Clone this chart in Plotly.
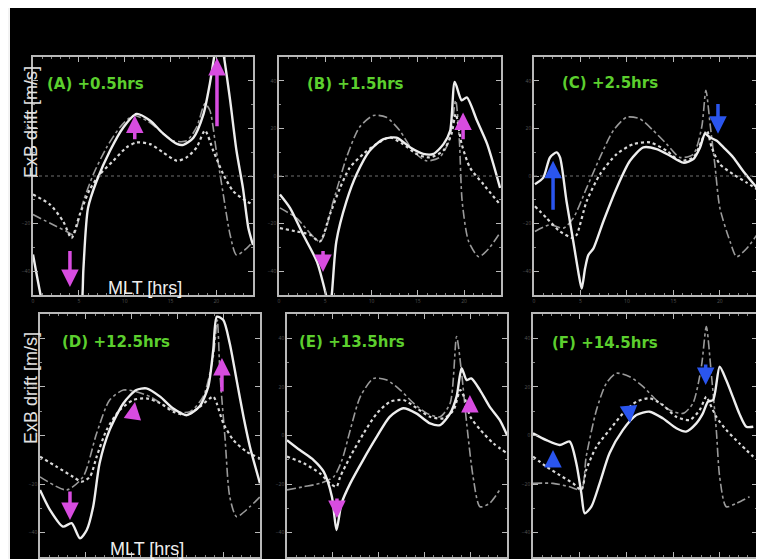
import plotly.graph_objects as go

# ---------------- data (MLT hours, ExB drift m/s) ----------------
A_solid_x = [0, 1.1, 2.5, 4, 5.3, 5.5, 6.0, 6.95, 8.4, 9.85, 11.3, 12.76, 14.2, 15.7, 16.4, 17.5, 18.6, 19.3, 19.85, 20.3, 20.75, 21.5, 22.2, 22.9, 23.5, 24]
A_solid_y = [-33, -55, -75, -75, -55, -39, -13.5, -2, 10.6, 20.4, 26.1, 23.3, 17.8, 13.5, 13.1, 16.1, 26, 39, 52, 60, 52, 32, 10.6, -5, -22, -29]
A_dot_x = [0, 1.85, 3.3, 4.2, 5.1, 6.2, 7.3, 8.76, 10.2, 11.3, 12.76, 14.2, 15.7, 16.76, 17.85, 18.76, 19.67, 20.76, 21.85, 23.3, 24]
A_dot_y = [-7.8, -12, -19.1, -26.1, -16.2, -5.6, 0.7, 6.4, 12, 14.1, 13.4, 9.9, 6.4, 7.8, 12, 19.1, 10.6, 0.7, -6.4, -10.6, -12]
A_dd_x = [0, 2.2, 3.67, 4.4, 5.5, 6.58, 8.03, 9.49, 10.94, 12.4, 13.85, 15.3, 16.76, 17.85, 18.76, 19.3, 20.0, 20.76, 21.5, 22.2, 23.3, 24]
A_dd_y = [-16.2, -20.5, -23.3, -24.7, -10.6, 0.7, 12, 20.5, 25.4, 23.3, 19.1, 14.8, 14.8, 20.5, 30.4, 27.5, 10.6, -7.8, -24.7, -33.2, -30.4, -27.5]

B_solid_x = [0.1, 1.2, 2.6, 4.1, 5.15, 5.45, 5.7, 6.2, 7.3, 8.4, 9.8, 11.3, 12.7, 14.2, 15.6, 16.7, 17.8, 18.5, 19.0, 19.75, 20.3, 21.4, 22.5, 23.9]
B_solid_y = [-7.8, -13.5, -24.6, -36, -51, -56, -50, -27.5, -10.6, 0.8, 10.6, 15.5, 16.1, 12, 9.3, 9.3, 13.5, 19, 39.5, 31.8, 33, 23.3, 13.5, -5]
B_dot_x = [0.1, 1.9, 3.35, 4.43, 5.5, 6.6, 7.65, 9.1, 10.5, 12.0, 13.4, 14.9, 16.3, 17.75, 18.65, 19.1, 19.75, 20.65, 22.1, 23.9]
B_dot_y = [-21.9, -23.3, -24.7, -27.5, -16.2, -5, 3.5, 9.2, 13.4, 16.2, 13.4, 9.2, 7.8, 10.6, 17.7, 26.1, 13.4, 3.5, -3.5, -12]
B_dd_x = [0.1, 1.9, 4.43, 5.87, 7.3, 8.7, 10.2, 11.6, 13.05, 14.5, 15.9, 17.35, 18.4, 19.1, 19.5, 19.8, 20.5, 21.6, 22.7, 23.75]
B_dd_y = [-13.4, -17.7, -27.5, -10.6, 7.8, 20.5, 25.4, 24.7, 19.1, 10.6, 6.4, 7.8, 14.8, 31.8, 14.8, -10.6, -27.5, -33.9, -30.4, -24.7]

C_solid_x = [0.1, 1.0, 1.72, 2.44, 2.8, 3.5, 4.23, 4.77, 5.13, 5.5, 5.85, 6.4, 7.46, 8.9, 10.33, 11.77, 13.2, 14.64, 16.07, 17.15, 17.87, 18.4, 18.95, 19.67, 20.4, 21.45, 22.5, 24]
C_solid_y = [-3.5, -0.7, 7.8, 9.9, 7.8, -10.6, -27.5, -40.3, -47.3, -38.8, -33.2, -30.4, -19.1, -5, 6.4, 12, 11.3, 8.5, 5.6, 7.1, 12, 17.7, 16.2, 14.8, 12, 7.8, 2.1, -5]
C_dot_x = [0.1, 1.36, 2.8, 4.23, 4.6, 5.67, 7.1, 8.9, 10.7, 12.5, 14.28, 15.7, 17.15, 18.05, 18.6, 19.13, 20.0, 21.45, 22.9, 24]
C_dot_y = [-12.7, -17.7, -23.3, -26.1, -24.7, -10.6, 0.7, 9.2, 13.4, 14.1, 10.6, 6.4, 7.8, 14.8, 19.1, 12, 5, 0.7, -2.8, -5.6]
C_dd_x = [0.1, 1.72, 3.16, 4.23, 5.67, 7.1, 8.54, 9.97, 11.4, 12.84, 14.28, 15.7, 17.15, 18.05, 18.5, 18.95, 19.5, 20.0, 21.1, 21.8, 22.9, 24]
C_dd_y = [-23.3, -20.5, -21.9, -17.7, -5, 7.8, 19.1, 24.7, 24, 19.1, 13.4, 7.8, 9.2, 20.5, 36, 21.9, 3.5, -13.4, -27.5, -33.9, -30.4, -24.7]

D_solid_x = [0, 1.1, 2.5, 3.45, 4.36, 5.1, 5.8, 6.5, 7.6, 9.1, 10.5, 11.6, 13.1, 14.5, 16.0, 17.4, 18.35, 18.9, 19.3, 20.0, 20.7, 21.45, 22.2, 22.9, 24]
D_solid_y = [-22.4, -30.7, -37.5, -36.1, -42.3, -38.9, -29.3, -11.4, 2.3, 13.3, 18.7, 19.4, 16, 11.2, 8.4, 11.9, 20, 35.2, 48.9, 47.5, 37.9, 22.8, 7.7, -4.6, -19.7]
D_dot_x = [0, 1.8, 3.6, 4.55, 5.45, 6.18, 7.27, 8.7, 10.18, 11.6, 13.1, 14.54, 16.0, 17.45, 18.9, 19.27, 20.0, 21.1, 22.54, 24]
D_dot_y = [-8.7, -12.8, -17, -19, -17, -8.7, 2.3, 10.5, 14.6, 15.3, 13.3, 9.8, 8.4, 11.9, 16, 13.3, 5, -1.9, -6.7, -9.4]
D_dd_x = [0, 2.9, 4.7, 6.18, 7.6, 9.1, 10.5, 12.0, 13.45, 14.9, 16.36, 17.8, 18.9, 19.34, 19.63, 20.2, 20.7, 21.45, 22.9, 24]
D_dd_y = [-17, -22.4, -17, 0.9, 14.6, 18.7, 18, 16, 12.6, 9.8, 9.8, 16, 32.4, 47.5, 25.6, -1.9, -25.2, -33.4, -29.3, -25.2]

E_solid_x = [0, 1.4, 2.9, 4.0, 4.9, 5.4, 5.95, 6.9, 8.3, 9.8, 11.2, 12.7, 14.1, 15.6, 16.7, 17.8, 18.5, 19.05, 19.6, 20.1, 21.05, 22.1, 23.2, 24]
E_solid_y = [-1.9, -6, -10.1, -14.9, -25.2, -38.9, -27.9, -19.7, -10.1, -0.5, 7.7, 11.2, 9.1, 5.0, 4.3, 9.1, 16, 27.7, 22.8, 23.5, 18.7, 11.9, 6.4, 0.2]
E_dot_x = [0, 1.8, 3.6, 4.7, 5.4, 5.8, 6.9, 8.36, 9.8, 11.27, 12.7, 14.18, 15.6, 17.1, 18.18, 18.9, 19.45, 20.0, 21.1, 22.5, 24]
E_dot_y = [-8.7, -11.4, -15.6, -19.7, -21.1, -17, -8.7, 0.9, 9.1, 13.9, 14.6, 11.2, 7.7, 7.1, 10.5, 18.7, 14.6, 7.7, 2.3, -3.2, -7.3]
E_dd_x = [0, 1.8, 3.6, 5.1, 6.0, 6.9, 8.0, 9.45, 10.9, 12.36, 13.8, 15.27, 16.7, 17.8, 18.5, 19.05, 19.6, 20.3, 21.05, 22.1, 23.2]
E_dd_y = [-22.4, -21.1, -19.7, -17, -10.1, 2.3, 16, 23.5, 22.8, 18.7, 13.3, 9.1, 7.7, 13.3, 40.7, 25.6, 5, -17, -29.3, -27.9, -22.4]

F_solid_x = [0, 1.43, 2.86, 3.93, 4.64, 5.18, 5.54, 6.25, 7.14, 8.2, 9.64, 11.07, 12.5, 13.9, 15.36, 16.4, 17.5, 18.2, 18.75, 19.3, 20.0, 20.7, 21.4, 22.1, 22.86, 23.6]
F_solid_y = [0.9, -1.9, -3.9, -2.5, -11.4, -23.8, -32, -29.3, -19.7, -7.3, 2.3, 8.4, 9.8, 7.1, 3, 1.6, 5, 9.1, 13.9, 14.6, 28.3, 22.8, 16, 9.1, 3.6, 3.6]
F_dot_x = [0, 1.43, 2.86, 4.3, 5.18, 5.7, 6.8, 8.2, 9.64, 11.07, 12.5, 13.9, 15.36, 16.8, 17.86, 18.57, 18.93, 19.64, 20.7, 22.1, 23.6]
F_dot_y = [-8.7, -12.8, -16.3, -19.7, -22.4, -14.2, -4.6, 2.3, 9.1, 13.9, 15.3, 12.6, 7.7, 6.4, 10.5, 16, 13.3, 7.7, 2.3, -3.2, -8.7]
F_dd_x = [0, 2.14, 3.93, 5.18, 5.7, 6.8, 7.86, 8.93, 10.36, 11.8, 13.2, 14.64, 16.07, 17.14, 18.04, 18.57, 19.1, 19.64, 20.0, 20.7, 21.8, 23.2]
F_dd_y = [-19.7, -19.7, -21.1, -22.4, -8.7, 10.5, 21.5, 25.6, 24.2, 20.1, 14.6, 10.5, 9.1, 13.3, 28.3, 44.8, 25.6, 2.3, -17, -29.3, -27.9, -25.2]

panel_titles = ["(A) +0.5hrs", "(B) +1.5hrs", "(C) +2.5hrs",
                "(D) +12.5hrs", "(E) +13.5hrs", "(F) +14.5hrs"]

# arrows: (head_x, head_y, tail_x, tail_y)
A_arrows = [(4.03, -46.6, 4.03, -30.9), (11.1, 25.4, 11.1, 14.8), (20.07, 49.6, 20.07, 20.3)]
B_arrows = [(4.76, -40.3, 4.76, -30.9), (19.9, 26.7, 19.9, 14.8)]
C_arrows = [(2.05, 6.4, 2.05, -14.8), (19.8, 17.8, 19.8, 30.9)]
D_arrows = [(3.27, -34.8, 3.27, -22.4), (10.36, 13.8, 10.2, 9.7), (19.85, 31.9, 19.85, 17.5)]
E_arrows = [(5.45, -34.0, 5.45, -25.3), (19.95, 16.7, 19.95, 11.7)]
F_arrows = [(2.14, -6.0, 2.14, -11.3), (10.4, 5.1, 10.3, 9.3), (18.5, 20.8, 18.5, 29.8)]

x_range = [0, 24]
y_range = [-50, 50]

# ---------------- layout geometry (screen pixels; page body has an 8px margin) ----------------
W, H = 764, 559
O = 8
def px(x):
    return (x - O) / W
def py(y):
    return 1 - (y - O) / H

domains = [
    ((33, 253), (57, 295)),
    ((279, 501), (57, 295)),
    ((534, 757), (57, 295)),
    ((40, 260), (314, 557)),
    ((287, 507), (314, 557)),
    ((533, 757), (314, 557)),
]
title_pos = [(45, 84), (305, 84), (560, 83), (60, 342), (297, 342), (550, 343)]

panels = [
    (A_solid_x, A_solid_y, A_dot_x, A_dot_y, A_dd_x, A_dd_y, A_arrows, "#d84ce0"),
    (B_solid_x, B_solid_y, B_dot_x, B_dot_y, B_dd_x, B_dd_y, B_arrows, "#d84ce0"),
    (C_solid_x, C_solid_y, C_dot_x, C_dot_y, C_dd_x, C_dd_y, C_arrows, "#2a55ee"),
    (D_solid_x, D_solid_y, D_dot_x, D_dot_y, D_dd_x, D_dd_y, D_arrows, "#d84ce0"),
    (E_solid_x, E_solid_y, E_dot_x, E_dot_y, E_dd_x, E_dd_y, E_arrows, "#d84ce0"),
    (F_solid_x, F_solid_y, F_dot_x, F_dot_y, F_dd_x, F_dd_y, F_arrows, "#2a55ee"),
]

fig = go.Figure()
annotations = []
shapes = []

# frame: black picture area inside a light border
shapes.append(dict(type="rect", xref="paper", yref="paper", x0=px(10), x1=px(757), y0=0, y1=1,
                   fillcolor="black", line=dict(width=0), layer="below"))
shapes.append(dict(type="rect", xref="paper", yref="paper", x0=px(757), x1=1, y0=0, y1=1,
                   fillcolor="#c4c4c4", line=dict(width=0), layer="below"))

for i, (sx, sy, dx, dy, ddx, ddy, arrows, acol) in enumerate(panels):
    n = i + 1
    xa = "x" if n == 1 else f"x{n}"
    ya = "y" if n == 1 else f"y{n}"
    (x0, x1), (y0, y1) = domains[i]
    axis_common = dict(showgrid=False, zeroline=False, showline=True, linecolor="#b8b8b8", linewidth=1.5,
                       mirror="ticks", ticks="inside", ticklen=5, tickcolor="#b8b8b8",
                       tickfont=dict(size=5, color="#555555"),
                       minor=dict(ticks="inside", ticklen=2, tickcolor="#8a8a8a"))
    fig.layout[f"xaxis{'' if n == 1 else n}"] = dict(axis_common, domain=[px(x0), px(x1)], range=x_range,
                                                    dtick=5, anchor=ya, minor_dtick=1,
                                                    showticklabels=(i < 3))
    fig.layout[f"yaxis{'' if n == 1 else n}"] = dict(axis_common, domain=[py(y1), py(y0)], range=y_range,
                                                    dtick=20, tick0=0, anchor=xa, minor_dtick=10)
    # lines
    fig.add_trace(go.Scatter(x=ddx, y=ddy, mode="lines", xaxis=xa, yaxis=ya,
                             line=dict(color="#9a9a9a", width=1.6, dash="dashdot", shape="spline", smoothing=0.7),
                             showlegend=False, hoverinfo="skip"))
    fig.add_trace(go.Scatter(x=dx, y=dy, mode="lines", xaxis=xa, yaxis=ya,
                             line=dict(color="#d8d8d8", width=2.2, dash="dot", shape="spline", smoothing=0.7),
                             showlegend=False, hoverinfo="skip"))
    fig.add_trace(go.Scatter(x=sx, y=sy, mode="lines", xaxis=xa, yaxis=ya,
                             line=dict(color="#eeeeee", width=2.4, shape="spline", smoothing=0.7),
                             showlegend=False, hoverinfo="skip"))
    # zero line (top row)
    if i < 3:
        shapes.append(dict(type="line", xref=xa, yref=ya, x0=x_range[0], x1=x_range[1], y0=0, y1=0,
                           line=dict(color="#707070", width=1.2, dash="dot")))
    # arrows
    for (hx, hy, tx, ty) in arrows:
        annotations.append(dict(x=hx, y=hy, ax=tx, ay=ty, xref=xa, yref=ya, axref=xa, ayref=ya,
                                text="", showarrow=True, arrowhead=2, arrowsize=1.0, arrowwidth=3.5,
                                arrowcolor=acol, standoff=0, startstandoff=0))
    # panel title
    tx0, ty0 = title_pos[i]
    annotations.append(dict(x=px(tx0), y=py(ty0), xref="paper", yref="paper",
                            text=f"<b>{panel_titles[i]}</b>", showarrow=False, xanchor="left", yanchor="middle",
                            font=dict(family="DejaVu Sans", size=15, color="#5ccf2e")))

# axis label texts
for (cx, cy) in [(31, 122), (31, 388)]:
    annotations.append(dict(x=px(cx), y=py(cy), xref="paper", yref="paper", text="ExB drift [m/s]",
                            textangle=-90, showarrow=False, xanchor="center", yanchor="middle",
                            font=dict(family="Liberation Sans, Arial", size=18, color="#e2e2e2")))
for (cx, cy) in [(145, 288), (147, 549)]:
    annotations.append(dict(x=px(cx), y=py(cy), xref="paper", yref="paper", text="MLT [hrs]",
                            showarrow=False, xanchor="center", yanchor="middle",
                            font=dict(family="Liberation Sans, Arial", size=18, color="#eeeeee")))

fig.update_layout(width=W, height=H, margin=dict(l=0, r=0, t=0, b=0),
                  paper_bgcolor="#f3f3f3", plot_bgcolor="black",
                  annotations=annotations, shapes=shapes, showlegend=False)

fig.write_html("out.html")
